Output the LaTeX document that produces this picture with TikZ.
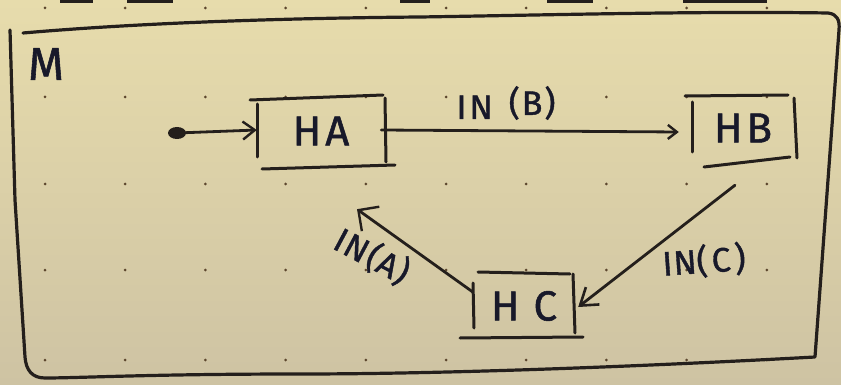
\documentclass[tikz,border=0pt]{standalone}
\usepackage{fontspec}
\setmainfont{Fira Sans}
\newfontfamily\markerfont[FakeBold=1.2]{Fira Sans}
\usetikzlibrary{arrows.meta,calc}
\definecolor{paperTop}{RGB}{231,220,172}
\definecolor{paperBot}{RGB}{206,195,163}
\definecolor{ink}{RGB}{36,31,28}
\definecolor{textink}{RGB}{24,25,42}
\definecolor{dotink}{RGB}{92,70,45}
\tikzset{
  frame/.style={draw=ink,line width=3.2pt,line cap=round,line join=round},
  boxline/.style={draw=ink,line width=3pt,line cap=round},
  wire/.style={draw=ink,line width=2.8pt,line cap=round},
  statebox/.style={text=textink,inner sep=0pt,minimum width=100pt,minimum height=58pt,
    font=\markerfont\fontsize{42}{42}\selectfont},
  edgelabel/.style={text=textink,inner sep=0pt,font=\markerfont\fontsize{34}{34}\selectfont},
  gridpt/.style={fill=dotink,draw=none}
}
\begin{document}
\begin{tikzpicture}[x=1pt,y=-1pt]
  % paper
  \useasboundingbox (0,0) rectangle (841,385);
  \shade[top color=paperTop,bottom color=paperBot] (0,0) rectangle (841,385);

  % dotted grid of the sheet
  \foreach \gx in {0,...,9}{
    \foreach \gy in {8,97,184,270,360}{
      \fill[gridpt] ({45+80.2*\gx},\gy) circle (1.5pt);
    }
  }

  % strokes of the drawing above, cut by the edge
  \foreach \a/\b in {60/93,127/173,400/430,547/593,683/767}{
    \draw[line width=4pt,ink] (\a,1.5) -- (\b,1.5);
  }

  % outer machine M
  \draw[frame] (23,33) .. controls (150,22) and (300,18) .. (420,17)
     .. controls (550,15) and (700,11) .. (828,13)
     .. controls (837,14) and (840,20) .. (839,30)
     -- (815,357)
     .. controls (650,366) and (450,374) .. (300,374)
     .. controls (150,374) and (80,378) .. (45,378)
     .. controls (32,378) and (26,370) .. (25,357)
     -- (15,200) -- (10,30);
  \node[text=textink,inner sep=0pt,font=\markerfont\fontsize{46}{46}\selectfont] (Mlabel) at (46,64) {M};

  % states
  \node[statebox] (HA) at (321,131) {H\hspace{4pt}A};
  \node[statebox] (HB) at (743,128) {H\hspace{4pt}B};
  \node[statebox] (HC) at (524,306) {H\hspace{14pt}C};

  % hand-drawn borders of the states
  \draw[boxline] (250,100) -- (383,95);
  \draw[boxline] (257,104) -- (257,157);
  \draw[boxline] (385,98) -- (386,162);
  \draw[boxline] (262,169) -- (395,165);

  \draw[boxline] (685,96) -- (788,95);
  \draw[boxline] (692,102) -- (692,152);
  \draw[boxline] (794,98) -- (797,158);
  \draw[boxline] (704,167) -- (790,157);

  \draw[boxline] (478,272) -- (570,274);
  \draw[boxline] (473,283) -- (474,328);
  \draw[boxline] (573,274) -- (575,333);
  \draw[boxline] (460,338) -- (583,337);

  % initial marker
  \fill[ink] (177,133) ellipse (9pt and 6pt);
  \coordinate (start) at (177,133);

  % transitions
  \draw[wire,-{Straight Barb[length=12pt,width=18pt,line width=2.4pt]}]
    (start) -- ($(HA.west)+(-14,-1)$);
  \draw[wire,-{Straight Barb[length=9pt,width=14pt,line width=2.4pt]}]
    ($(HA.east)+(10,-1)$) -- ($(HB.west)+(-14,4)$);
  \draw[wire,-{Straight Barb[length=15pt,width=30pt,line width=2.4pt]}]
    ($(HC.west)+(-1,-14)$) -- ($(HA.south)+(36,49)$);
  \draw[wire,-{Straight Barb[length=16pt,width=22pt,line width=2.6pt]}]
    ($(HB.south)+(-8,28)$) -- ($(HC.east)+(4,1)$);

  % transition labels
  \node[edgelabel] (lb) at (506,103) {I\hspace{3pt}N\hspace{16pt}\raisebox{4pt}{(\hspace{2pt}B\hspace{2pt})}};
  \node[edgelabel,rotate=-28] (la) at (372,256) {I\hspace{1pt}N\hspace{2pt}(\hspace{1pt}A\hspace{1pt})};
  \node[edgelabel,rotate=4] (lc) at (704,261) {I\hspace{1pt}N(\hspace{4pt}C\hspace{4pt})};
\end{tikzpicture}
\end{document}
